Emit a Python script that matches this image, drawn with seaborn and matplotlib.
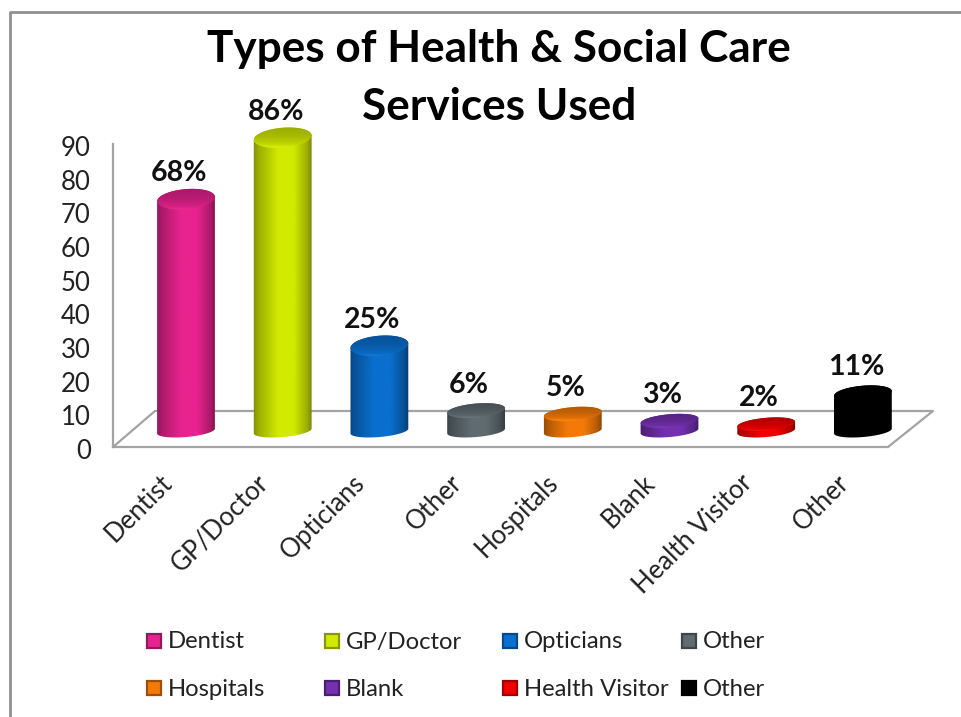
import numpy as np
import pandas as pd
import matplotlib
matplotlib.use("Agg")
import matplotlib.pyplot as plt
from matplotlib.patches import PathPatch, Rectangle
from matplotlib.path import Path
from matplotlib.lines import Line2D
from matplotlib.colors import to_rgb
from matplotlib.transforms import Affine2D, ScaledTranslation
import seaborn as sns

# Survey results
categories = ["Dentist", "GP/Doctor", "Opticians", "Other",
              "Hospitals", "Blank", "Health Visitor", "Other"]
percent_used = [68, 86, 25, 6, 5, 3, 2, 11]
bar_colors = ["#e8238f", "#d2ea00", "#0a6fcf", "#5f6b71",
              "#f47a08", "#7430b0", "#f00000", "#000000"]
y_ticks = [0, 10, 20, 30, 40, 50, 60, 70, 80, 90]
title_lines = ["Types of Health & Social Care", "Services Used"]

W, H = 961, 717
sns.set_theme(style="white")
plt.rcParams["font.family"] = ["Lato", "DejaVu Sans"]

fig = plt.figure(figsize=(W / 100, H / 100), dpi=100, facecolor="white")
px = Affine2D().scale(1 / W, -1 / H).translate(0, 1) + fig.transFigure


def axes_box(left, right, top, bottom):
    return [left / W, 1 - bottom / H, (right - left) / W, (bottom - top) / H]


# Horizontal scale shared by the wall axes and the bar plane
LEFT, RIGHT, FIRST_BAR, STEP = 113, 888, 186, 96.7
x_limits = ((LEFT - FIRST_BAR) / STEP, (RIGHT - FIRST_BAR) / STEP)

# Wall axes carrying the value scale and category names
wall = fig.add_axes(axes_box(LEFT, RIGHT, 144, 447), zorder=1)
wall.patch.set_alpha(0)
wall.set_ylim(0, 90)
wall.set_xlim(*x_limits)
wall.set_yticks(y_ticks)
wall.set_xticks(range(len(categories)))
wall.set_xticklabels(categories, rotation=45, ha="right", va="top",
                     rotation_mode="anchor", fontsize=18.5, color="#222222")
wall.tick_params(axis="y", length=0, pad=16, labelsize=18.5, labelcolor="#222222")
wall.tick_params(axis="x", length=0, pad=16.5)
label_shift = ScaledTranslation(-27 / 100, 0, fig.dpi_scale_trans)
for tick_label in wall.get_xticklabels():
    tick_label.set_transform(tick_label.get_transform() + label_shift)
number_shift = ScaledTranslation(0, -2 / 100, fig.dpi_scale_trans)
for tick_label in wall.get_yticklabels():
    tick_label.set_transform(tick_label.get_transform() + number_shift)
for side in ("top", "right"):
    wall.spines[side].set_visible(False)
for side in ("left", "bottom"):
    wall.spines[side].set_color("#a3a3a3")
    wall.spines[side].set_linewidth(1.6)

# Floor of the chart, in perspective
floor = [(113, 447), (155, 411), (933, 411), (888, 447)]
fig.add_artist(Line2D(*zip(*floor), transform=px, color="#a3a3a3", lw=1.6, zorder=0.5))

# Bar plane sits slightly in front of the wall
SY = 3.41
BASE = 431
plane = fig.add_axes(axes_box(LEFT, RIGHT, BASE - 90 * SY, BASE), zorder=2)
plane.patch.set_alpha(0)
frame = pd.DataFrame({"slot": range(len(categories)), "percent": percent_used})
sns.barplot(data=frame, x="slot", y="percent", hue="slot", palette=bar_colors,
            dodge=False, legend=False, width=0.55, ax=plane)
plane.set_axis_off()


def shade(color, factor):
    rgb = np.array(to_rgb(color))
    if factor <= 1:
        return rgb * factor
    return rgb + (1 - rgb) * (factor - 1)


def ellipse_points(cx, cy, a, b, start, stop, n=60, tilt=np.radians(5)):
    t = np.radians(np.linspace(start, stop, n))
    ex, ey = a * np.cos(t), b * np.sin(t)
    dx = ex * np.cos(tilt) - ey * np.sin(tilt)
    dy = ex * np.sin(tilt) + ey * np.cos(tilt)
    return np.column_stack([cx + dx / STEP, cy + dy / SY])


side_t = np.linspace(0, 1, 64)
side_f = np.interp(side_t, [0, 0.1, 0.42, 0.68, 0.9, 1], [0.58, 0.74, 1.0, 1.0, 0.74, 0.5])
RADIUS = 29

# Turn each flat bar into a shaded cylinder of the same height
for bar, color, value in zip(sorted(plane.patches, key=lambda p: p.get_x()),
                             bar_colors, percent_used):
    cx = bar.get_x() + bar.get_width() / 2
    top = bar.get_height()
    cap_b = 6 + 4 * min(value / 25, 1)
    base_b = 6
    outline = np.vstack([
        ellipse_points(cx, 0, RADIUS, base_b, 180, 360),
        ellipse_points(cx, top, RADIUS, cap_b, 0, 180),
    ])
    body = PathPatch(Path(np.vstack([outline, outline[:1]]), closed=True),
                     transform=plane.transData, fc="none", ec="none")
    body.set_clip_on(False)
    plane.add_patch(body)
    ramp = np.array([shade(color, f) if color != "#000000" else to_rgb(color)
                     for f in side_f])[None, :, :]
    img = plane.imshow(ramp, extent=(cx - 0.32, cx + 0.32, -3, top + 4),
                       aspect="auto", zorder=3, interpolation="bilinear")
    img.set_clip_box(fig.bbox)
    img.set_clip_path(body)

    cap_path = ellipse_points(cx, top, RADIUS, cap_b, 0, 360)
    cap = PathPatch(Path(cap_path, closed=True), transform=plane.transData,
                    fc="none", ec="none")
    cap.set_clip_on(False)
    plane.add_patch(cap)
    if color == "#000000":
        cap_factors = [1, 1, 1, 1]
    else:
        cap_factors = [0.72, 0.8, 0.92, 1.15]
    vertical = np.interp(np.linspace(0, 1, 32), [0, 0.45, 0.78, 1], cap_factors)
    cap_ramp = np.array([shade(color, f) for f in vertical])[:, None, :]
    cap_img = plane.imshow(cap_ramp, extent=(cx - 0.32, cx + 0.32,
                                             top - 1.25 * cap_b / SY, top + 1.25 * cap_b / SY),
                           aspect="auto", zorder=4, interpolation="bilinear")
    cap_img.set_clip_box(fig.bbox)
    cap_img.set_clip_path(cap)

    # Value label above the cylinder
    plane.annotate(f"{value}%", xy=(cx, top), xytext=(-7, 26),
                   textcoords="offset pixels", ha="center", va="center",
                   fontsize=20.5, fontweight="bold", color="#111111",
                   annotation_clip=False, zorder=5)

plane.set_xlim(*x_limits)
plane.set_ylim(0, 90)

# Title, one text per line
for line, y in zip(title_lines, [49, 107]):
    fig.text(499 / W, 1 - y / H, line, ha="center", va="center", fontsize=31.8,
             fontweight="bold", color="black")

# Legend laid out in two rows of four
legend_x = [147, 325, 503, 682]
legend_y = [641, 688]
for i, (name, color) in enumerate(zip(categories, bar_colors)):
    col, row = i % 4, i // 4
    x, y = legend_x[col], legend_y[row]
    fig.add_artist(Rectangle((x, y - 7), 14, 14, transform=px, fc=color,
                             ec=shade(color, 0.65), lw=1.6))
    fig.text((x + 21) / W, 1 - (y + 1) / H, name, ha="left", va="center",
             fontsize=17.2, color="#222222")

# Outer border of the chart area
fig.add_artist(Line2D([10, 10, W], [H, 12, 12], transform=px, color="#8f8f8f", lw=2))

fig.savefig("out.png", dpi=100, facecolor="white")
